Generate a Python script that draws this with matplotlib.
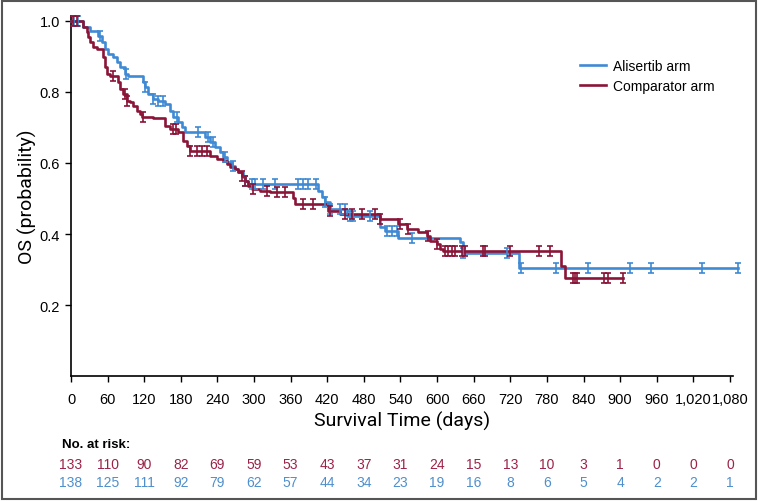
import numpy as np
import matplotlib
matplotlib.use("Agg")
import matplotlib.pyplot as plt
from matplotlib.path import Path
from matplotlib.patches import Rectangle

# Kaplan-Meier steps: (day, survival after the drop)
ali_days = [0, 20, 31, 44, 51, 56, 61, 69, 75, 80, 88, 93, 118, 121, 126, 134, 143, 154,
            162, 167, 175, 182, 187, 220, 228, 236, 244, 249, 256, 264, 269, 274, 282, 285,
            290, 405, 411, 416, 424, 452, 506, 515, 536, 637, 642, 734]
ali_surv = [1.0, 0.981, 0.972, 0.958, 0.94, 0.92, 0.906, 0.898, 0.884, 0.870, 0.850, 0.843,
            0.828, 0.814, 0.794, 0.78, 0.774, 0.766, 0.746, 0.729, 0.715, 0.70, 0.687, 0.672,
            0.658, 0.644, 0.63, 0.616, 0.602, 0.591, 0.582, 0.574, 0.56, 0.549, 0.541, 0.521,
            0.505, 0.49, 0.47, 0.45, 0.42, 0.408, 0.39, 0.377, 0.348, 0.304]
ali_cens = [5, 12, 48, 90, 121, 134, 143, 151, 174, 208, 225, 233, 252, 265, 285, 297, 302,
            315, 334, 372, 380, 388, 401, 416, 424, 441, 449, 457, 462, 490, 518, 526, 534,
            559, 642, 715, 737, 795, 847, 916, 951, 1034, 1093]

comp_days = [0, 20, 26, 28, 31, 36, 43, 52, 56, 59, 64, 77, 80, 85, 92, 97, 102, 108, 113,
             116, 134, 154, 162, 175, 184, 190, 195, 228, 239, 249, 256, 261, 269, 274, 280,
             285, 290, 297, 310, 326, 364, 367, 421, 441, 506, 536, 551, 569, 583, 588, 600,
             605, 610, 803, 810]
comp_surv = [1.0, 0.982, 0.968, 0.955, 0.94, 0.926, 0.92, 0.898, 0.87, 0.85, 0.844, 0.828,
             0.808, 0.794, 0.774, 0.771, 0.76, 0.746, 0.737, 0.729, 0.725, 0.703, 0.695,
             0.686, 0.662, 0.648, 0.634, 0.62, 0.61, 0.605, 0.597, 0.589, 0.583, 0.574,
             0.564, 0.549, 0.536, 0.527, 0.521, 0.518, 0.50, 0.484, 0.465, 0.456, 0.442,
             0.428, 0.414, 0.405, 0.395, 0.38, 0.372, 0.358, 0.352, 0.31, 0.276]
comp_cens = [3, 10, 69, 88, 92, 118, 167, 172, 195, 206, 215, 223, 280, 285, 298, 321, 338,
             351, 380, 397, 424, 449, 460, 477, 498, 506, 539, 552, 585, 600, 613, 618, 624,
             629, 641, 646, 675, 678, 719, 767, 785, 823, 826, 829, 873, 880, 905]

risk_days = list(range(0, 1081, 60))
risk_comp = [133, 110, 90, 82, 69, 59, 53, 43, 37, 31, 24, 15, 13, 10, 3, 1, 0, 0, 0]
risk_ali = [138, 125, 111, 92, 79, 62, 57, 44, 34, 23, 19, 16, 8, 6, 5, 4, 2, 2, 1]

BLUE = "#3f8ad4"
RED = "#8a1538"
BLUE_TXT = "#4f8fcc"
RED_TXT = "#9b2348"

plt.rcParams["font.family"] = ["Liberation Sans", "DejaVu Sans"]

fig = plt.figure(figsize=(7.58, 5.02), dpi=100)
ax = fig.add_axes([71 / 758, 1 - 377.3 / 502, (733 - 71) / 758, (377.3 - 17) / 502])

# censor marker shaped like "I"
cmark = Path([(-0.6, 1), (0.6, 1), (0, 1), (0, -1), (-0.6, -1), (0.6, -1)],
             [Path.MOVETO, Path.LINETO, Path.MOVETO, Path.LINETO, Path.MOVETO, Path.LINETO])


def draw_arm(days, surv, cens, color, label):
    days = np.array(days, float)
    surv = np.array(surv, float)
    end = max(cens)
    x = np.append(days, end)
    y = np.append(surv, surv[-1])
    ax.step(x, y, where="post", color=color, lw=1.9, label=label, clip_on=False, zorder=3)
    c = np.array(cens, float)
    cy = surv[np.searchsorted(days, c, side="right") - 1]
    ax.plot(c, cy, ls="none", marker=cmark, ms=7, mew=1.2, mec=color, color=color,
            clip_on=False, zorder=4)


draw_arm(ali_days, ali_surv, ali_cens, BLUE, "Alisertib arm")
draw_arm(comp_days, comp_surv, comp_cens, RED, "Comparator arm")

ax.set_xlim(0, 1085)
ax.set_ylim(0, 1.013)
ax.set_xticks(risk_days)
ax.set_xticklabels([f"{d:,}" for d in risk_days], fontsize=10.5)
ax.set_yticks([0.2, 0.4, 0.6, 0.8, 1.0])
ax.set_yticklabels(["0.2", "0.4", "0.6", "0.8", "1.0"], fontsize=10.5)
ax.tick_params(axis="x", direction="out", length=4, width=1, pad=7)
ax.tick_params(axis="y", direction="out", length=4, width=1, pad=4)
for s in ["top", "right"]:
    ax.spines[s].set_visible(False)
for s in ["left", "bottom"]:
    ax.spines[s].set_linewidth(1.2)

ax.set_xlabel("Survival Time (days)", fontsize=14, family=["Roboto", "DejaVu Sans"], labelpad=4)
ax.set_ylabel("OS (probability)", fontsize=14, family=["Roboto", "DejaVu Sans"], labelpad=2)

leg = ax.legend(loc="upper left", bbox_to_anchor=(0.75, 0.915), frameon=False, fontsize=10,
                handlelength=1.9, handletextpad=0.5, labelspacing=0.4)

# number at risk table
trans = ax.get_xaxis_transform()
fig.text(62 / 758, 1 - 445 / 502, "No. at risk:", fontsize=9.5, fontweight="bold", va="center")
for d, r, b in zip(risk_days, risk_comp, risk_ali):
    ax.text(d, -0.243, str(r), transform=trans, ha="center", va="center", fontsize=10,
            color=RED_TXT, clip_on=False)
    ax.text(d, -0.293, str(b), transform=trans, ha="center", va="center", fontsize=10,
            color=BLUE_TXT, clip_on=False)

# outer frame
fig.patches.append(Rectangle((0.002, 0.003), 0.996, 0.994, transform=fig.transFigure,
                             fill=False, edgecolor="#555555", lw=1.5))

fig.savefig("out.png", dpi=100)
